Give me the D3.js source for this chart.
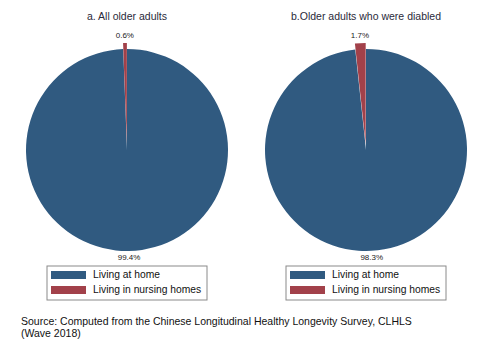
<!DOCTYPE html>
<html>
<head>
<meta charset="utf-8">
<script src="https://cdn.jsdelivr.net/npm/d3@7"></script>
<style>
  body { margin: 0; background: #fff; }
  svg { display: block; font-family: "Liberation Sans", Arial, sans-serif; }
</style>
</head>
<body>
<svg width="493" height="359"></svg>
<script>
// data
let categories = ["Living at home", "Living in nursing homes"];
let panelTitles = ["a. All older adults", "b.Older adults who were diabled"];
let allAdults = [99.4, 0.6];
let disabledAdults = [98.3, 1.7];
let colors = ["#305a80", "#a2414a"];

let svg = d3.select('svg');
let radius = 101;
let explode = 6;
let centers = [[127, 150], [366, 150]];
let panels = [allAdults, disabledAdults];

let color = d3.scaleOrdinal().domain(categories).range(colors);
let pie = d3.pie().sort(null).value((d) => d.value);
let arc = d3.arc().innerRadius(0).outerRadius(radius);

panels.forEach(function (values, p) {
    let data = categories.map((c, i) => ({ name: c, value: values[i] }));
    let g = svg.append('g')
        .attr('transform', `translate(${centers[p][0]}, ${centers[p][1]})`);

    svg.append('text')
        .attr('x', centers[p][0])
        .attr('y', 20)
        .attr('text-anchor', 'middle')
        .style('font-size', '10.5px')
        .style('fill', '#2a2a3a')
        .text(panelTitles[p]);

    let slices = g.selectAll()
        .data(pie(data))
        .enter()
        .append('g')
        .attr('transform', function (d, i) {
            if (i === 0) return null;
            let a = (d.startAngle + d.endAngle) / 2;
            return `translate(${Math.sin(a) * explode}, ${-Math.cos(a) * explode})`;
        });

    slices.append('path')
        .attr('d', arc)
        .attr('fill', (d) => color(d.data.name));

    slices.append('text')
        .attr('x', function (d) {
            let a = (d.startAngle + d.endAngle) / 2;
            return Math.sin(a) * (radius + 7);
        })
        .attr('y', function (d) {
            let a = (d.startAngle + d.endAngle) / 2;
            return -Math.cos(a) * (radius + 7);
        })
        .attr('text-anchor', 'middle')
        .attr('dominant-baseline', 'middle')
        .style('font-size', '8px')
        .style('fill', '#222')
        .text((d) => d.data.value + '%');

    // legend
    let lx = centers[p][0] - 80;
    let legend = svg.append('g')
        .attr('transform', `translate(${lx}, 266)`);
    legend.append('rect')
        .attr('width', 160)
        .attr('height', 34)
        .attr('fill', 'none')
        .attr('stroke', '#8a8a8a')
        .attr('stroke-width', 1);
    let items = legend.selectAll()
        .data(categories)
        .enter()
        .append('g')
        .attr('transform', (d, i) => `translate(4, ${5 + i * 15})`);
    items.append('rect')
        .attr('width', 35)
        .attr('height', 8)
        .attr('fill', (d) => color(d));
    items.append('text')
        .attr('x', 42)
        .attr('y', 4)
        .attr('dominant-baseline', 'middle')
        .style('font-size', '10.3px')
        .style('fill', '#111')
        .text((d) => d);
});

svg.append('text')
    .attr('x', 21)
    .attr('y', 325)
    .style('font-size', '10.5px')
    .style('fill', '#111')
    .text('Source: Computed from the Chinese Longitudinal Healthy Longevity Survey, CLHLS');
svg.append('text')
    .attr('x', 21)
    .attr('y', 337)
    .style('font-size', '10.5px')
    .style('fill', '#111')
    .text('(Wave 2018)');
</script>
</body>
</html>
